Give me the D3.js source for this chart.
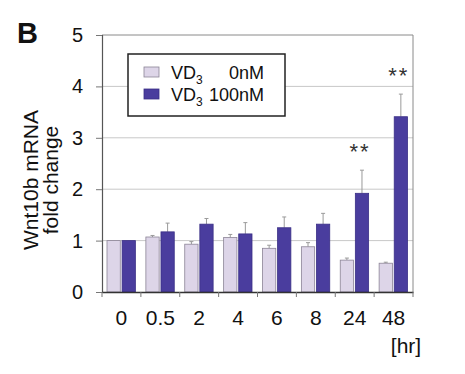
<!DOCTYPE html>
<html>
<head>
<meta charset="utf-8">
<script src="https://cdn.jsdelivr.net/npm/d3@7"></script>
<style>
  html, body { margin: 0; padding: 0; background: #fff; }
  svg { display: block; font-family: "Liberation Sans", Arial, sans-serif; }
</style>
</head>
<body>
<div id="chart"></div>
<script>
// ---- data ----
const categories = ["0", "0.5", "2", "4", "6", "8", "24", "48"];
const seriesNames = ["VD3 0nM", "VD3 100nM"];
const control = [1.00, 1.07, 0.93, 1.06, 0.85, 0.88, 0.62, 0.56];
const controlErr = [0.00, 0.03, 0.05, 0.06, 0.06, 0.08, 0.04, 0.02];
const treated = [1.00, 1.17, 1.32, 1.13, 1.25, 1.32, 1.92, 3.41];
const treatedErr = [0.00, 0.17, 0.11, 0.22, 0.21, 0.21, 0.45, 0.44];
const significance = ["", "", "", "", "", "", "**", "**"];
const yTicks = [0, 1, 2, 3, 4, 5];

const W = 465, H = 374;
const plot = { left: 102, right: 413, top: 35, bottom: 292 };
const colors = { "VD3 0nM": "#ddd5e8", "VD3 100nM": "#4a3d9e" };

const svg = d3.select("#chart").append("svg").attr("width", W).attr("height", H);

const x0 = d3.scaleBand().domain(categories).range([plot.left, plot.right]).padding(0);
const x1 = d3.scaleBand().domain(seriesNames).range([5, x0.bandwidth() - 5.5]).paddingInner(0.12);
const y = d3.scaleLinear().domain([0, 5]).range([plot.bottom, plot.top]);

// grid lines
svg.append("g").selectAll("line").data(yTicks.filter(t => t > 0 && t < 5)).join("line")
  .attr("x1", plot.left).attr("x2", plot.right)
  .attr("y1", d => y(d)).attr("y2", d => y(d))
  .attr("stroke", "#c8c8c8").attr("stroke-width", 1);

// frame top and right
svg.append("line").attr("x1", plot.left).attr("x2", plot.right).attr("y1", y(5)).attr("y2", y(5))
  .attr("stroke", "#8a8a8a").attr("stroke-width", 1);
svg.append("line").attr("x1", plot.right).attr("x2", plot.right).attr("y1", y(5)).attr("y2", y(0))
  .attr("stroke", "#8a8a8a").attr("stroke-width", 1);

// data rows
const rows = categories.map((c, i) => ({
  cat: c,
  sig: significance[i],
  bars: [
    { s: seriesNames[0], v: control[i], e: controlErr[i] },
    { s: seriesNames[1], v: treated[i], e: treatedErr[i] }
  ]
}));

const groups = svg.append("g").selectAll("g").data(rows).join("g")
  .attr("transform", d => `translate(${x0(d.cat)},0)`);

// error bars (behind bars)
groups.selectAll("g.err").data(d => d.bars.filter(b => b.e > 0)).join("g").attr("class", "err")
  .each(function(b) {
    const g = d3.select(this);
    const cx = x1(b.s) + x1.bandwidth() / 2;
    g.append("line").attr("x1", cx).attr("x2", cx).attr("y1", y(b.v)).attr("y2", y(b.v + b.e))
      .attr("stroke", "#9a9a9a").attr("stroke-width", 1);
    g.append("line").attr("x1", cx - 2).attr("x2", cx + 2).attr("y1", y(b.v + b.e)).attr("y2", y(b.v + b.e))
      .attr("stroke", "#9a9a9a").attr("stroke-width", 1);
  });

groups.selectAll("rect").data(d => d.bars).join("rect")
  .attr("x", b => x1(b.s))
  .attr("width", x1.bandwidth())
  .attr("y", b => y(b.v))
  .attr("height", b => y(0) - y(b.v))
  .attr("fill", b => colors[b.s])
  .attr("stroke", b => b.s === seriesNames[0] ? "#8c8496" : "#3a2f86")
  .attr("stroke-width", 0.8);

// significance
groups.filter(d => d.sig).append("text")
  .attr("x", d => x1(seriesNames[1]) + x1.bandwidth() / 2 - 2)
  .attr("y", d => y(d.bars[1].v + d.bars[1].e) - 11)
  .attr("text-anchor", "middle")
  .attr("font-size", 22)
  .attr("fill", "#333")
  .attr("letter-spacing", 2)
  .text(d => d.sig);

// y axis
const yAxis = svg.append("g").attr("transform", `translate(${plot.left},0)`)
  .call(d3.axisLeft(y).tickValues(yTicks).tickSize(6).tickPadding(13).tickFormat(d3.format("d")));
yAxis.select(".domain").attr("stroke", "#555").attr("stroke-width", 1.2);
yAxis.selectAll(".tick line").attr("stroke", "#777");
yAxis.selectAll("text").attr("font-size", 20).attr("fill", "#111")
  .attr("font-family", "Liberation Sans, Arial, sans-serif");

// x axis: domain line + boundary ticks
const xAxis = svg.append("g").attr("transform", `translate(0,${plot.bottom})`)
  .call(d3.axisBottom(x0).tickSize(0).tickPadding(18));
xAxis.select(".domain").attr("stroke", "#333").attr("stroke-width", 1.4);
xAxis.selectAll("text").attr("font-size", 21).attr("fill", "#111")
  .attr("font-family", "Liberation Sans, Arial, sans-serif");
const bounds = categories.map(c => x0(c)).concat([x0(categories[categories.length - 1]) + x0.bandwidth()]);
svg.append("g").selectAll("line").data(bounds).join("line")
  .attr("x1", d => d).attr("x2", d => d)
  .attr("y1", plot.bottom).attr("y2", plot.bottom + 5)
  .attr("stroke", "#777").attr("stroke-width", 1);

// axis unit label
svg.append("text").attr("x", 406).attr("y", 353).attr("text-anchor", "middle")
  .attr("font-size", 21).attr("fill", "#111").text("[hr]");

// y title
const yt = svg.append("text").attr("transform", "translate(0,180) rotate(-90)")
  .attr("text-anchor", "middle").attr("font-size", 21).attr("fill", "#111");
yt.append("tspan").attr("x", 0).attr("y", 38).text("Wnt10b mRNA");
yt.append("tspan").attr("x", 0).attr("y", 58).text("fold change");

// panel letter
svg.append("text").attr("x", 17).attr("y", 43).attr("font-size", 29).attr("font-weight", "bold")
  .attr("fill", "#111").text("B");

// legend
const lg = svg.append("g");
lg.append("rect").attr("x", 128).attr("y", 54).attr("width", 157).attr("height", 62)
  .attr("fill", "#fff").attr("stroke", "#222").attr("stroke-width", 1.5);
const legendItems = lg.selectAll("g.item").data(seriesNames).join("g").attr("class", "item")
  .attr("transform", (d, i) => `translate(0,${i * 22})`);
legendItems.append("rect").attr("x", 144).attr("y", 67).attr("width", 15).attr("height", 10)
  .attr("fill", d => colors[d]).attr("stroke", d => d === seriesNames[0] ? "#8c8496" : "#3a2f86")
  .attr("stroke-width", 0.8);
legendItems.each(function(d) {
  const g = d3.select(this);
  const t = g.append("text").attr("x", 171).attr("y", 79).attr("font-size", 18).attr("fill", "#111");
  t.append("tspan").text("VD");
  t.append("tspan").attr("font-size", 12).attr("dy", 5).text("3");
  g.append("text").attr("x", 264).attr("y", 79).attr("text-anchor", "end").attr("font-size", 18)
    .attr("fill", "#111").text(d.split(" ")[1]);
});
</script>
</body>
</html>
